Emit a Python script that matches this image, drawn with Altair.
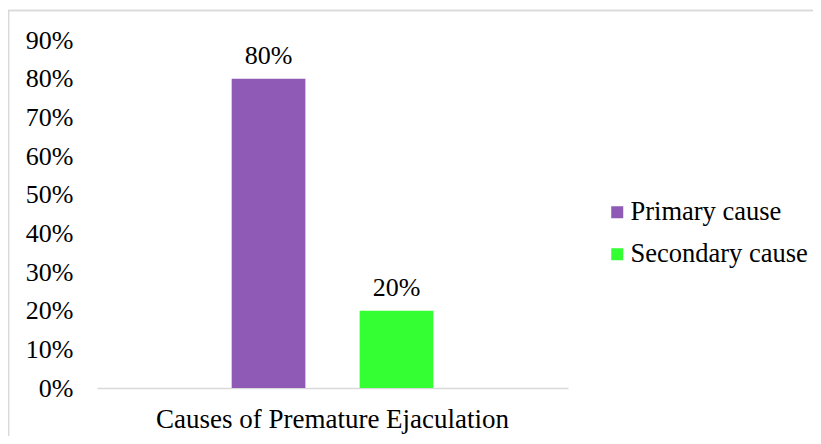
import altair as alt
import pandas as pd

causes = ["Primary cause", "Secondary cause"]
values = [0.80, 0.20]
labels = ["80%", "20%"]
category = "Causes of Premature Ejaculation"
colors = ["#8E5AB5", "#33FF33"]
y_ticks = [0, 0.1, 0.2, 0.3, 0.4, 0.5, 0.6, 0.7, 0.8, 0.9]

df = pd.DataFrame({"cat": [category] * len(causes), "cause": causes, "value": values, "label": labels})

FONT = "Liberation Serif"
FS = 26
W, H = 471, 348

base = alt.Chart(df).encode(
    x=alt.X("cat:N", title=None,
            scale=alt.Scale(paddingInner=0, paddingOuter=0.668),
            axis=alt.Axis(labelAngle=0, ticks=False, domainColor="#D9D9D9", domainWidth=1.5,
                          labelFont=FONT, labelFontSize=27, labelColor="#000000", labelPadding=18,
                          labelLimit=1000)),
    xOffset=alt.XOffset("cause:N", sort=causes,
                        scale=alt.Scale(paddingInner=0.424, paddingOuter=0)),
    y=alt.Y("value:Q", title=None,
            scale=alt.Scale(domain=[0, 0.9], nice=False),
            axis=alt.Axis(values=y_ticks, format=".0%", grid=False, ticks=False, domain=False,
                          labelOverlap=False,
                          labelFont=FONT, labelFontSize=FS, labelColor="#000000", labelPadding=24)),
)

bars = base.mark_bar().encode(
    color=alt.Color("cause:N", sort=causes,
                    scale=alt.Scale(domain=causes, range=colors),
                    legend=alt.Legend(title=None, orient="none", legendX=507, legendY=159,
                                      symbolType="square", symbolSize=144, symbolStrokeWidth=0,
                                      labelFont=FONT, labelFontSize=26.5, labelColor="#000000",
                                      labelOffset=0, rowPadding=15, labelLimit=1000)),
)

text = base.mark_text(baseline="alphabetic", dy=-15, font=FONT, fontSize=FS, color="#000000").encode(
    text="label:N",
)

frame = alt.Chart(df).mark_rect(fill=None, stroke="#D9D9D9", strokeWidth=1.5).encode(
    x=alt.value(-88.5), x2=alt.value(900), y=alt.value(-29.5), y2=alt.value(600)
)

chart = alt.layer(frame, bars, text).properties(
    width=W, height=H,
    autosize=alt.AutoSizeParams(type="none"),
    padding={"left": 89, "top": 32, "right": 245, "bottom": 48},
).configure(background="#FFFFFF", font=FONT).configure_view(strokeWidth=0, stroke="transparent")

chart.save("out.html", embed_options={"renderer": "svg", "actions": False})
